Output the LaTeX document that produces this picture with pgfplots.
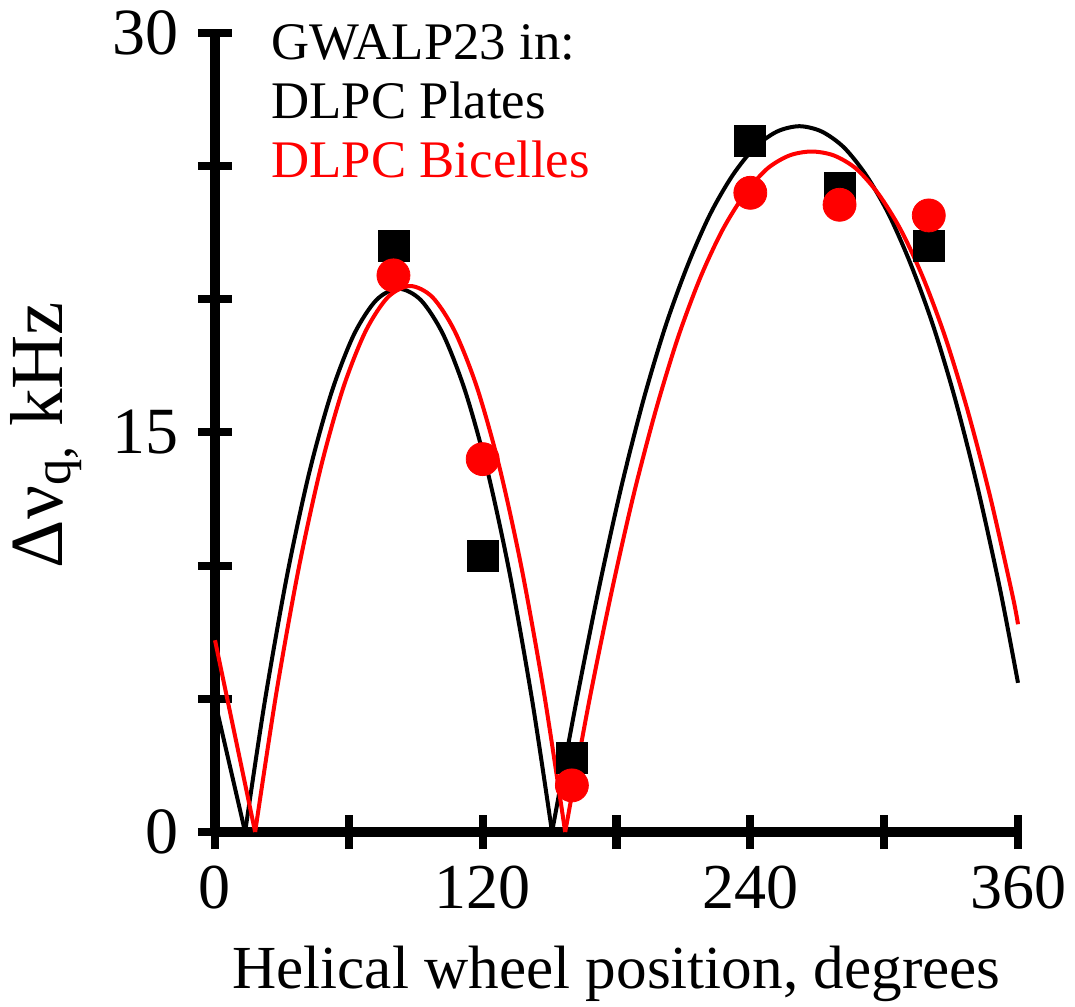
\documentclass[border=0pt]{standalone}
\usepackage{fontspec}
\setmainfont{Liberation Serif}
\usepackage{pgfplots}
\pgfplotsset{compat=1.18}
\begin{document}
\begin{tikzpicture}
\useasboundingbox (-107.5pt,-87pt) rectangle (430pt,416pt);
\begin{axis}[
  at={(0,0)}, anchor=south west,
  scale only axis, width=401.5pt, height=399.5pt,
  xmin=0, xmax=360, ymin=0, ymax=30,
  axis lines*=left,
  axis line style={line width=5pt, black},
  xtick={0,60,...,360}, xticklabels={0,,120,,240,,360},
  ytick={0,5,...,30}, yticklabels={0,,,15,,,30},
  tick align=center, major tick length=17pt,
  tick style={line width=4pt, black},
  /pgf/number format/assume math mode=true,
  xticklabel style={font=\fontsize{32}{32}\selectfont, yshift=-5pt},
  yticklabel style={font=\fontsize{33}{33}\selectfont, xshift=-6pt},
  xlabel={Helical wheel position, degrees},
  xlabel style={font=\fontsize{30.6}{30.6}\selectfont, at={(axis description cs:0.5,-0.177)}, anchor=center},
  ylabel={Δν\textsubscript{q,} kHz},
  ylabel style={font=\fontsize{37.5}{37.5}\selectfont, at={(axis description cs:-0.21,0.497)}, anchor=center},
  clip=false,
]
% black fit curve (DLPC plates)
\addplot[black, line width=2pt] coordinates {(0,4.9) (13.5,0)};
\addplot[black, line width=2pt, smooth] coordinates {
 (13.5,0) (22.3,4.89) (32.3,9.63) (42.3,13.51) (52.3,16.52) (62.3,18.68) (72.3,19.97) (82.3,20.4) (92.3,19.97) (102.3,18.68) (112.3,16.52) (122.3,13.51) (132.3,9.63) (142.3,4.89) (151.1,0)};
\addplot[black, line width=2pt, smooth] coordinates {
 (151.1,0) (162,4.9) (172,9.1) (182,12.9) (192,16.2) (202,19.0) (212,21.3) (222,23.2) (232,24.65) (242,25.7) (252,26.3) (262,26.5) (272,26.3) (282,25.7) (292,24.65) (302,23.2) (312,21.3) (322,19.0) (332,16.2) (342,12.9) (352,9.1) (360,5.6)};
% red fit curve (DLPC bicelles)
\addplot[red, line width=2pt] coordinates {(0,7.2) (18,0)};
\addplot[red, line width=2pt, smooth] coordinates {
 (18,0) (27.5,5.22) (37.5,9.89) (47.5,13.71) (57.5,16.68) (67.5,18.80) (77.5,20.08) (87.5,20.5) (97.5,20.08) (107.5,18.80) (117.5,16.68) (127.5,13.71) (137.5,9.89) (147.5,5.22) (157,0)};
\addplot[red, line width=2pt, smooth] coordinates {
 (157,0) (167.5,4.8) (177.5,8.9) (187.5,12.6) (197.5,15.8) (207.5,18.55) (217.5,20.8) (227.5,22.6) (237.5,23.95) (247.5,24.9) (257.5,25.4) (267.5,25.55) (277.5,25.4) (287.5,24.9) (297.5,23.95) (307.5,22.6) (317.5,20.8) (327.5,18.55) (337.5,15.8) (347.5,12.6) (357.5,8.9) (360,7.8)};
% data
\addplot[only marks, mark=square*, mark size=7.75pt, black] coordinates {
 (80,22.0) (120,10.35) (160,2.8) (240,25.95) (280,24.2) (320,22.0)};
\addplot[only marks, mark=*, mark size=8.25pt, red] coordinates {
 (80,20.9) (120,14.0) (160,1.75) (240,24.0) (280,23.55) (320,23.15)};
\node[anchor=base west, font=\fontsize{26.4}{26.4}\selectfont, inner sep=0pt] at (axis description cs:0.070,0.967) {GWALP23 in:};
\node[anchor=base west, font=\fontsize{26.4}{26.4}\selectfont, inner sep=0pt] at (axis description cs:0.070,0.893) {DLPC Plates};
\node[anchor=base west, font=\fontsize{26.4}{26.4}\selectfont, inner sep=0pt, text=red] at (axis description cs:0.070,0.819) {DLPC Bicelles};
\end{axis}
\end{tikzpicture}
\end{document}
